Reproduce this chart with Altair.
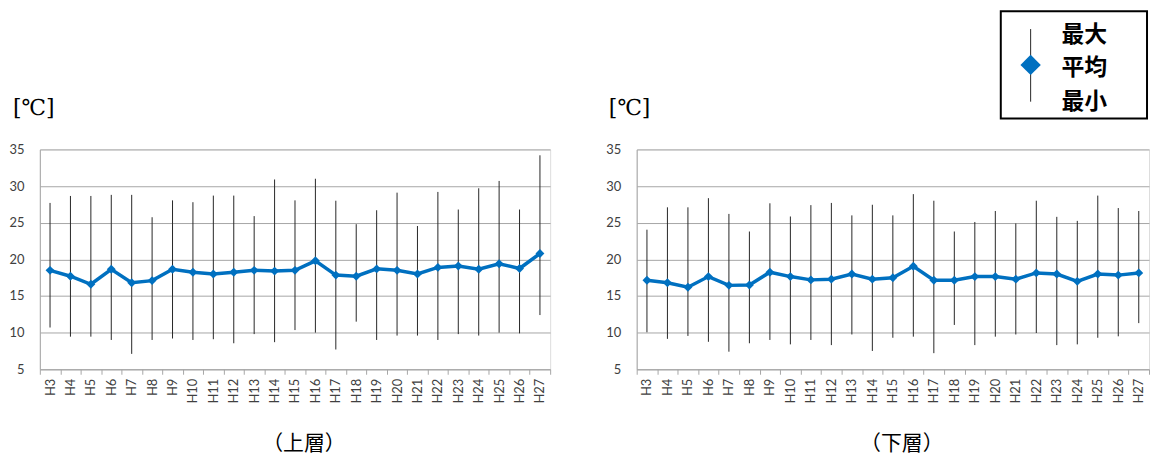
import altair as alt
import pandas as pd

years = ["H3", "H4", "H5", "H6", "H7", "H8", "H9", "H10", "H11", "H12", "H13", "H14", "H15",
         "H16", "H17", "H18", "H19", "H20", "H21", "H22", "H23", "H24", "H25", "H26", "H27"]

upper_max = [27.7, 28.65, 28.65, 28.8, 28.8, 25.75, 28.05, 27.8, 28.7, 28.7, 25.9, 30.9, 28.05,
             31.0, 28.0, 24.8, 26.7, 29.1, 24.55, 29.2, 26.8, 29.7, 30.7, 26.8, 34.2]
upper_mean = [18.5, 17.7, 16.6, 18.65, 16.8, 17.1, 18.65, 18.25, 18.0, 18.25, 18.5, 18.4, 18.5,
              19.8, 17.85, 17.7, 18.7, 18.5, 18.0, 18.9, 19.1, 18.65, 19.4, 18.75, 20.8]
upper_min = [10.7, 9.45, 9.45, 9.0, 7.1, 9.0, 9.2, 9.0, 9.1, 8.55, 9.8, 8.7, 10.35,
             10.0, 7.7, 11.5, 9.0, 9.6, 9.6, 9.0, 9.8, 9.6, 10.0, 9.9, 12.4]

lower_max = [24.05, 27.1, 27.1, 28.35, 26.2, 23.8, 27.65, 25.85, 27.4, 27.7, 26.0, 27.45, 26.0,
             28.9, 28.0, 23.8, 25.1, 26.6, 24.9, 28.0, 25.8, 25.25, 28.7, 27.0, 26.6]
lower_mean = [17.15, 16.8, 16.2, 17.65, 16.45, 16.5, 18.25, 17.65, 17.2, 17.3, 18.0, 17.3, 17.5,
              19.05, 17.15, 17.15, 17.65, 17.65, 17.3, 18.15, 18.0, 17.0, 18.0, 17.85, 18.15]
lower_min = [10.05, 9.15, 9.55, 8.75, 7.4, 8.55, 9.0, 8.4, 9.0, 8.3, 9.75, 7.5, 9.3,
             9.45, 7.2, 11.05, 8.3, 9.45, 9.75, 9.95, 8.3, 8.4, 9.3, 9.5, 11.3]

unit_label = ["[℃]"]
panel_titles = ["（上層）", "（下層）"]
legend_labels = ["最大", "平均", "最小"]
y_ticks = [5, 10, 15, 20, 25, 30, 35]

BLUE = "#0070c0"
GRID = "#a6a6a6"
TXT = "#404040"
H = 221


def panel(mx, mean, mn, w, title, with_legend=False, unit_dx=-27):
    df = pd.DataFrame({"year": years, "max": mx, "mean": mean, "min": mn})
    base = alt.Chart(df)
    xaxis = alt.Axis(title=None, labelAngle=-90, labelFont="Lato", labelFontSize=13,
                     labelColor=TXT, labelPadding=4, ticks=True, tickBand="extent",
                     tickSize=5, tickColor=GRID, domainColor=GRID, grid=False)
    xscale = alt.Scale(type="band", paddingInner=0, paddingOuter=0)
    xenc = alt.X("year:N", sort=years, bandPosition=0.5, scale=xscale, axis=xaxis)
    yscale = alt.Scale(domain=[5, 35], nice=False, zero=False)
    yaxis = alt.Axis(title=None, values=y_ticks, grid=True, gridColor=GRID, ticks=False,
                     domainColor=GRID, labelFont="Lato", labelFontSize=13, labelOverlap=False,
                     labelColor=TXT, labelPadding=16)
    whisk = base.mark_rule(color="#262626", strokeWidth=1).encode(
        x=xenc, y=alt.Y("max:Q", scale=yscale, axis=yaxis), y2="min:Q")
    line = base.mark_line(color=BLUE, strokeWidth=3.5).encode(
        x=xenc, y=alt.Y("mean:Q", scale=yscale, axis=yaxis))
    pts = base.mark_point(shape="diamond", filled=True, color=BLUE, size=80, opacity=1).encode(
        x=xenc, y=alt.Y("mean:Q", scale=yscale, axis=yaxis))

    unit = alt.Chart(pd.DataFrame({"t": unit_label})).mark_text(
        font="DejaVu Serif", fontSize=22, align="left", baseline="middle", color="#000"
    ).encode(x=alt.value(unit_dx), y=alt.value(-42), text="t:N")
    sub = alt.Chart(pd.DataFrame({"t": [title]})).mark_text(
        font="Noto Sans CJK JP", fontSize=21, align="center", baseline="middle", color="#000"
    ).encode(x=alt.value(w / 2 + 9), y=alt.value(296), text="t:N")

    layers = [whisk, line, pts, unit, sub]
    if with_legend:
        one = pd.DataFrame({"k": [0]})
        box = alt.Chart(one).mark_rect(fill="white", stroke="#000", strokeWidth=2).encode(
            x=alt.value(366), x2=alt.value(513), y=alt.value(-139), y2=alt.value(-31))
        lrule = alt.Chart(one).mark_rule(color="#262626", strokeWidth=1).encode(
            x=alt.value(396), y=alt.value(-121), y2=alt.value(-48))
        ldia = alt.Chart(one).mark_point(shape="diamond", filled=True, color=BLUE,
                                         size=420, opacity=1).encode(
            x=alt.value(396), y=alt.value(-85))
        ltxt = alt.Chart(pd.DataFrame({"t": legend_labels, "yy": [-115, -82, -48]})).mark_text(
            font="Noto Sans CJK JP", fontSize=23, fontWeight="bold", align="left",
            baseline="middle", color="#000"
        ).encode(x=alt.value(427), y=alt.Y("yy:Q", scale=None), text="t:N")
        layers += [box, lrule, ldia, ltxt]
    return alt.layer(*layers).properties(width=w, height=H)


left = panel(upper_max, upper_mean, upper_min, 513, panel_titles[0])
right = panel(lower_max, lower_mean, lower_min, 515, panel_titles[1], with_legend=True, unit_dx=-28)

chart = alt.hconcat(left, right, spacing=87, bounds="flush").properties(padding=0).configure_view(
    stroke=None
).configure(background="white")

chart.save("out.html", embed_options={"renderer": "svg", "actions": False})
